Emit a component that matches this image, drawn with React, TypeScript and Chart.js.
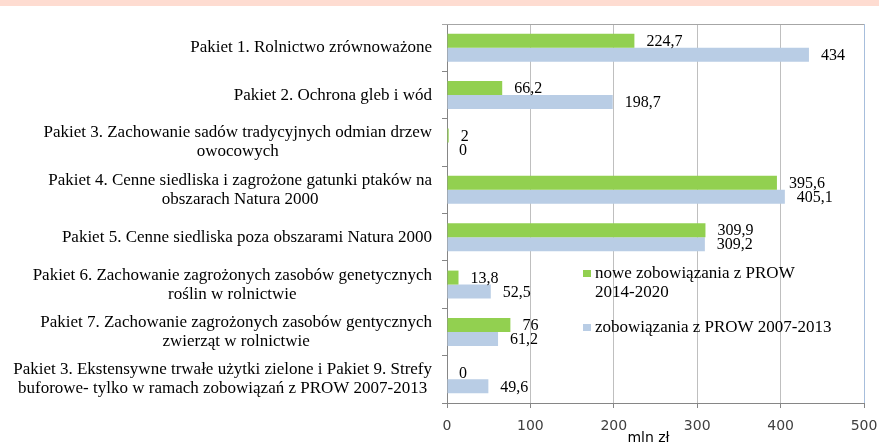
import React, { useEffect, useRef } from "react";
import { Chart, registerables } from "chart.js";

Chart.register(...registerables);

const categories: (string | string[])[] = [
  "Pakiet 1. Rolnictwo zrównoważone",
  "Pakiet 2. Ochrona gleb i wód",
  ["Pakiet 3. Zachowanie sadów tradycyjnych odmian drzew", "owocowych"],
  ["Pakiet 4. Cenne siedliska i zagrożone gatunki ptaków na", "obszarach Natura 2000"],
  "Pakiet 5. Cenne siedliska poza obszarami Natura 2000",
  ["Pakiet 6. Zachowanie zagrożonych zasobów genetycznych", "roślin w rolnictwie"],
  ["Pakiet 7. Zachowanie zagrożonych zasobów gentycznych", "zwierząt w rolnictwie"],
  [
    "Pakiet 3. Ekstensywne trwałe użytki zielone i Pakiet 9. Strefy",
    "buforowe- tylko w ramach zobowiązań z PROW 2007-2013",
  ],
];

const newValues = [224.7, 66.2, 2, 395.6, 309.9, 13.8, 76, 0];
const oldValues = [434, 198.7, 0, 405.1, 309.2, 52.5, 61.2, 49.6];

const seriesLabels = [
  ["nowe zobowiązania z PROW", "2014-2020"],
  ["zobowiązania z PROW 2007-2013"],
];
const seriesColors = ["#92D050", "#B9CDE5"];

const xMin = 0;
const xMax = 500;
const xStep = 100;
const axisTitle = "mln zł";

const SERIF = "'Liberation Serif', 'Times New Roman', serif";
const SANS = "'DejaVu Sans', Verdana, sans-serif";

const fmt = (v: number) => String(v).replace(".", ",");

const customDraw = {
  id: "customDraw",
  afterDraw(chart: any) {
    const { ctx, chartArea } = chart;
    const { left, right, top, bottom } = chartArea;
    ctx.save();

    // top border and right border
    ctx.lineWidth = 1;
    ctx.strokeStyle = "#A6A6A6";
    ctx.beginPath();
    ctx.moveTo(left - 5, top + 0.5);
    ctx.lineTo(right, top + 0.5);
    ctx.stroke();
    ctx.strokeStyle = "#A7BEDC";
    ctx.beginPath();
    ctx.moveTo(Math.round(right) + 0.5, top);
    ctx.lineTo(Math.round(right) + 0.5, bottom);
    ctx.stroke();

    // category labels
    const yScale = chart.scales.y;
    ctx.font = `17px ${SERIF}`;
    ctx.fillStyle = "#000";
    ctx.textBaseline = "middle";
    const lineH = 19;
    categories.forEach((c, i) => {
      const lines = Array.isArray(c) ? c : [c];
      const yc = yScale.getPixelForValue(i);
      const widths = lines.map((l) => ctx.measureText(l).width);
      const maxW = Math.max(...widths);
      const rightEdge = left - 15;
      const centerX = rightEdge - maxW / 2;
      lines.forEach((l, k) => {
        const y = yc + (k - (lines.length - 1) / 2) * lineH;
        ctx.textAlign = "center";
        ctx.fillText(l, centerX, y);
      });
    });

    // data labels
    ctx.font = `16px ${SERIF}`;
    ctx.textAlign = "left";
    ctx.textBaseline = "middle";
    chart.data.datasets.forEach((ds: any, di: number) => {
      const meta = chart.getDatasetMeta(di);
      meta.data.forEach((bar: any, i: number) => {
        const v = ds.data[i];
        ctx.fillText(fmt(v), bar.x + 12, bar.y + 1);
      });
    });

    // legend
    ctx.font = `17px ${SERIF}`;
    const lx = left + 136;
    const ly = top + 254;
    const entryGap = 54;
    const legLine = 18.5;
    seriesLabels.forEach((lines, i) => {
      const by = ly + i * entryGap;
      ctx.fillStyle = seriesColors[i];
      ctx.fillRect(lx, by - 8, 8, 7);
      ctx.fillStyle = "#000";
      ctx.textBaseline = "alphabetic";
      lines.forEach((l, k) => {
        ctx.fillText(l, lx + 12, by + k * legLine);
      });
    });

    // axis title
    ctx.font = `14px ${SANS}`;
    ctx.fillStyle = "#000";
    ctx.textAlign = "center";
    ctx.textBaseline = "middle";
    ctx.fillText(axisTitle, (left + right) / 2 - 7, bottom + 35);

    ctx.restore();
  },
};

export default function App() {
  const ref = useRef<HTMLCanvasElement>(null);

  useEffect(() => {
    if (!ref.current) return;
    const chart = new Chart(ref.current, {
      type: "bar",
      data: {
        labels: categories.map((c) => (Array.isArray(c) ? c.join(" ") : c)),
        datasets: [
          {
            label: seriesLabels[0].join(" "),
            data: newValues,
            backgroundColor: seriesColors[0],
            barPercentage: 1,
            categoryPercentage: 0.59,
          },
          {
            label: seriesLabels[1].join(" "),
            data: oldValues,
            backgroundColor: seriesColors[1],
            barPercentage: 1,
            categoryPercentage: 0.59,
          },
        ],
      },
      options: {
        indexAxis: "y",
        animation: false,
        responsive: false,
        maintainAspectRatio: false,
        layout: { padding: { left: 0, right: 15, top: 24, bottom: 0 } },
        plugins: {
          legend: { display: false },
          tooltip: { enabled: false },
        },
        scales: {
          x: {
            min: xMin,
            max: xMax,
            ticks: {
              stepSize: xStep,
              font: { family: SANS, size: 14 },
              color: "#404040",
              padding: 10,
            },
            grid: {
              color: "#BFBFBF",
              tickColor: "#868686",
              tickLength: 5,
            },
            border: { color: "#868686" },
            afterFit: (s: any) => {
              s.height = 40;
              s.paddingLeft = 0;
              s.paddingRight = 0;
            },
          },
          y: {
            ticks: { display: false },
            grid: {
              offset: true,
              drawOnChartArea: false,
              drawTicks: true,
              tickLength: 5,
              tickColor: "#868686",
              color: "#868686",
            },
            border: { color: "#868686" },
            afterFit: (s: any) => {
              s.width = 447;
              s.paddingTop = 0;
              s.paddingBottom = 0;
            },
          },
        },
      },
      plugins: [customDraw],
    } as any);
    return () => chart.destroy();
  }, []);

  return (
    <div
      style={{
        position: "fixed",
        left: 0,
        top: 0,
        width: 879,
        height: 443,
        background: "#fff",
        overflow: "hidden",
      }}
    >
      <div
        style={{
          position: "absolute",
          left: 0,
          top: 0,
          width: 879,
          height: 6,
          background: "#FEDCD1",
        }}
      />
      <canvas
        ref={ref}
        width={879}
        height={443}
        style={{ position: "absolute", left: 0, top: 0, width: 879, height: 443 }}
      />
    </div>
  );
}
